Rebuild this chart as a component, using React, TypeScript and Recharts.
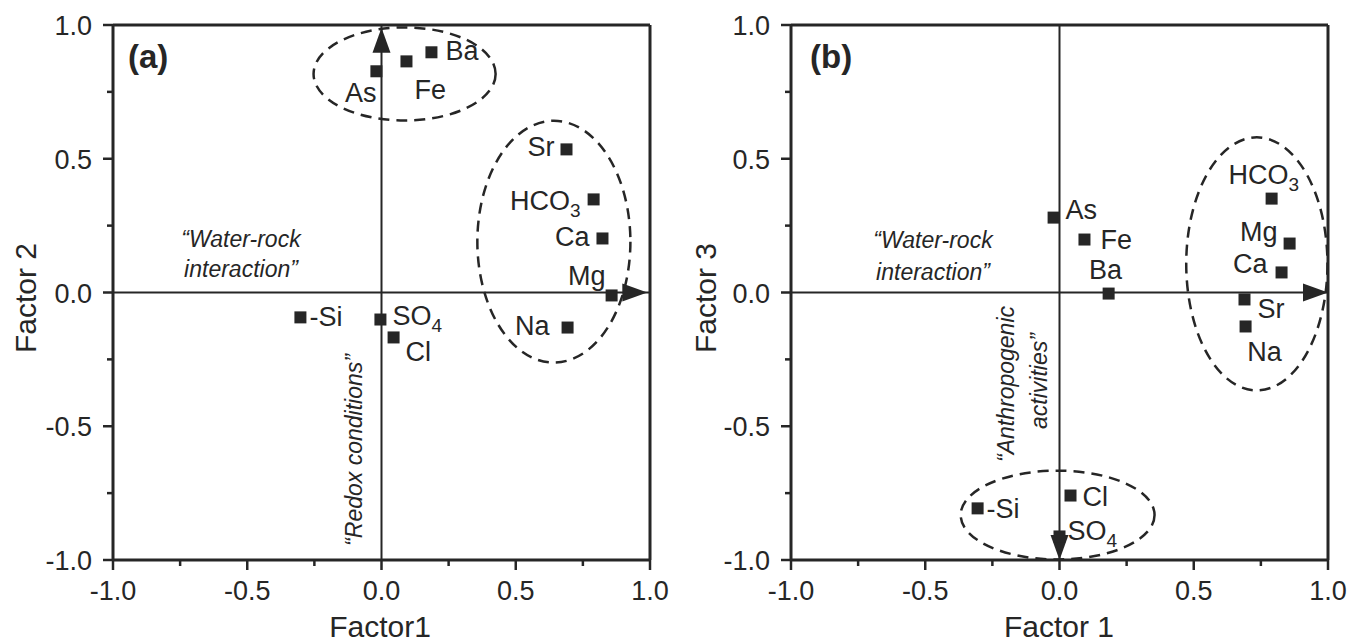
import { ScatterChart, Scatter, XAxis, YAxis, ReferenceLine, ReferenceArea } from 'recharts';

const INK = '#262626';
const FONT = '"Liberation Sans", Arial, Helvetica, sans-serif';

// panel (a): Factor 1 vs Factor 2
const ELEMENTS_A = ['As', 'Fe', 'Ba', 'Sr', 'HCO3', 'Ca', 'Mg', 'Na', '-Si', 'SO4', 'Cl'];
const FACTOR1_A = [-0.019, 0.093, 0.186, 0.689, 0.79, 0.823, 0.857, 0.693, -0.302, -0.004, 0.045];
const FACTOR2_A = [0.827, 0.864, 0.898, 0.535, 0.348, 0.202, -0.011, -0.131, -0.093, -0.101, -0.168];

// panel (b): Factor 1 vs Factor 3
const ELEMENTS_B = ['As', 'Fe', 'Ba', 'HCO3', 'Mg', 'Ca', 'Sr', 'Na', '-Si', 'Cl', 'SO4'];
const FACTOR1_B = [-0.022, 0.093, 0.183, 0.79, 0.857, 0.827, 0.689, 0.693, -0.305, 0.041, 0.0];
const FACTOR3_B = [0.28, 0.198, -0.004, 0.351, 0.183, 0.075, -0.026, -0.127, -0.807, -0.759, -0.912];

// grouping ellipses: centre and half-axes in factor units
const GROUPS_A = [
  { cx: 0.086, cy: 0.817, rx: 0.339, ry: 0.174 },
  { cx: 0.642, cy: 0.19, rx: 0.285, ry: 0.452 },
];
const GROUPS_B = [
  { cx: 0.735, cy: 0.107, rx: 0.263, ry: 0.473 },
  { cx: -0.007, cy: -0.832, rx: 0.361, ry: 0.166 },
];

const ARROWS_A = [
  { x: 0.99, y: 0, dir: 'right' },
  { x: 0, y: 0.99, dir: 'up' },
];
const ARROWS_B = [
  { x: 1, y: 0, dir: 'right' },
  { x: 0, y: -1, dir: 'down' },
];

const TICKS = [-1, -0.75, -0.5, -0.25, 0, 0.25, 0.5, 0.75, 1];

// label placement relative to the marker (anchor, dx, baseline dy)
const LABELS_A: Record<string, [string, number, number]> = {
  As: ['end', 0, 31],
  Fe: ['start', 8, 38],
  Ba: ['start', 14, 8],
  Sr: ['end', -12, 7],
  HCO3: ['end', -13, 11],
  Ca: ['end', -13, 8],
  Mg: ['end', -6, -10],
  Na: ['end', -18, 7],
  '-Si': ['start', 9, 9],
  SO4: ['start', 12, 5],
  Cl: ['start', 12, 24],
};
const LABELS_B: Record<string, [string, number, number]> = {
  As: ['start', 12, 1],
  Fe: ['start', 16, 9],
  Ba: ['middle', -3, -15],
  HCO3: ['start', -43, -15],
  Mg: ['end', -12, -3],
  Ca: ['end', -14, 1],
  Sr: ['start', 13, 19],
  Na: ['middle', 19, 35],
  '-Si': ['start', 9, 10],
  Cl: ['start', 12, 10],
  SO4: ['start', 8, 4],
};

const toPoints = (names: string[], xs: number[], ys: number[]) =>
  names.map((name, i) => ({ name, x: xs[i], y: ys[i] }));

const isMajor = (v: number) => Math.abs(v * 2 - Math.round(v * 2)) < 1e-6;

const XTick = (props: any) => {
  const { x, y, payload } = props;
  const v = payload.value;
  const major = isMajor(v);
  return (
    <g>
      <line x1={x} y1={y} x2={x} y2={y + (major ? 10 : 6)} stroke={INK} strokeWidth={2.5} />
      {major && (
        <text x={x} y={y + 40} textAnchor="middle" fontSize={27} fontFamily={FONT} fill={INK}>
          {v.toFixed(1)}
        </text>
      )}
    </g>
  );
};

const YTick = (props: any) => {
  const { x, y, payload } = props;
  const v = payload.value;
  const major = isMajor(v);
  return (
    <g>
      <line x1={x - (major ? 10 : 6)} y1={y} x2={x} y2={y} stroke={INK} strokeWidth={2.5} />
      {major && (
        <text x={x - 21} y={y + 10} textAnchor="end" fontSize={27} fontFamily={FONT} fill={INK}>
          {v.toFixed(1)}
        </text>
      )}
    </g>
  );
};

const renderName = (name: string) => {
  const m = name.match(/^(.*?)(\d)$/);
  if (!m) return name;
  return [
    <tspan key="b">{m[1]}</tspan>,
    <tspan key="s" fontSize={19} dy={7}>
      {m[2]}
    </tspan>,
  ];
};

const makePointShape = (labels: Record<string, [string, number, number]>) => (props: any) => {
  const { cx, cy, payload } = props;
  const [anchor, dx, dy] = labels[payload.name] || ['start', 10, 8];
  return (
    <g>
      <rect x={cx - 6} y={cy - 6} width={12} height={12} fill={INK} />
      <text
        x={cx + dx}
        y={cy + dy}
        textAnchor={anchor as any}
        fontSize={27}
        fontFamily={FONT}
        fill={INK}
      >
        {renderName(payload.name)}
      </text>
    </g>
  );
};

const ArrowHead = (props: any) => {
  const { cx, cy, payload } = props;
  const L = 25;
  const W = 9;
  let pts = '';
  if (payload.dir === 'right') pts = `${cx},${cy} ${cx - L},${cy - W} ${cx - L},${cy + W}`;
  if (payload.dir === 'up') pts = `${cx},${cy} ${cx - W},${cy + L} ${cx + W},${cy + L}`;
  if (payload.dir === 'down') pts = `${cx},${cy} ${cx - W},${cy - L} ${cx + W},${cy - L}`;
  return <polygon points={pts} fill={INK} />;
};

const EllipseShape = (p: any) => (
  <ellipse
    cx={p.x + p.width / 2}
    cy={p.y + p.height / 2}
    rx={Math.abs(p.width) / 2}
    ry={Math.abs(p.height) / 2}
    fill="none"
    stroke={INK}
    strokeWidth={2.5}
    strokeDasharray="11 7"
  />
);

interface PanelProps {
  width: number;
  left: number;
  right: number;
  points: { name: string; x: number; y: number }[];
  groups: { cx: number; cy: number; rx: number; ry: number }[];
  arrows: { x: number; y: number; dir: string }[];
  labels: Record<string, [string, number, number]>;
}

const Panel = ({ width, left, right, points, groups, arrows, labels }: PanelProps) => (
  <ScatterChart
    width={width}
    height={644}
    margin={{ top: 25, right, bottom: 34, left: left - 60 }}
    style={{ fontFamily: FONT }}
  >
    <XAxis
      type="number"
      dataKey="x"
      domain={[-1, 1]}
      ticks={TICKS}
      interval={0}
      height={50}
      tickSize={0}
      tickMargin={0}
      tickLine={false}
      tick={<XTick />}
      axisLine={{ stroke: INK, strokeWidth: 3 }}
    />
    <YAxis
      type="number"
      dataKey="y"
      domain={[-1, 1]}
      ticks={TICKS}
      interval={0}
      width={60}
      tickSize={0}
      tickMargin={0}
      tickLine={false}
      tick={<YTick />}
      axisLine={{ stroke: INK, strokeWidth: 3 }}
    />
    <ReferenceLine y={1} stroke={INK} strokeWidth={3} />
    <ReferenceLine x={1} stroke={INK} strokeWidth={3} />
    <ReferenceLine y={0} stroke={INK} strokeWidth={2} />
    <ReferenceLine x={0} stroke={INK} strokeWidth={2} />
    {groups.map((g, i) => (
      <ReferenceArea
        key={i}
        x1={g.cx - g.rx}
        x2={g.cx + g.rx}
        y1={g.cy - g.ry}
        y2={g.cy + g.ry}
        ifOverflow="visible"
        shape={EllipseShape}
      />
    ))}
    <Scatter data={arrows} shape={ArrowHead} isAnimationActive={false} />
    <Scatter data={points} shape={makePointShape(labels)} isAnimationActive={false} />
  </ScatterChart>
);

export default function App() {
  const pointsA = toPoints(ELEMENTS_A, FACTOR1_A, FACTOR2_A);
  const pointsB = toPoints(ELEMENTS_B, FACTOR1_B, FACTOR3_B);
  const italic = { fontFamily: FONT, fontStyle: 'italic', fontSize: 23, fill: INK } as const;
  const title = { fontFamily: FONT, fontSize: 30, fill: INK } as const;

  return (
    <div style={{ position: 'absolute', left: 0, top: 0, width: 1362, height: 644, background: '#fff' }}>
      <div style={{ position: 'absolute', left: 0, top: 0 }}>
        <Panel width={681} left={113} right={31} points={pointsA} groups={GROUPS_A} arrows={ARROWS_A} labels={LABELS_A} />
      </div>
      <div style={{ position: 'absolute', left: 680, top: 0 }}>
        <Panel width={682} left={111} right={34} points={pointsB} groups={GROUPS_B} arrows={ARROWS_B} labels={LABELS_B} />
      </div>
      <svg
        width={1362}
        height={644}
        style={{ position: 'absolute', left: 0, top: 0, pointerEvents: 'none' }}
      >
        <text x={128} y={68} fontFamily={FONT} fontWeight="bold" fontSize={33} fill={INK}>(a)</text>
        <text x={810} y={68} fontFamily={FONT} fontWeight="bold" fontSize={33} fill={INK}>(b)</text>

        <text x={241} y={247} textAnchor="middle" {...italic}>“Water-rock</text>
        <text x={241} y={277} textAnchor="middle" {...italic}>interaction”</text>
        <text x={933} y={248} textAnchor="middle" {...italic}>“Water-rock</text>
        <text x={933} y={280} textAnchor="middle" {...italic}>interaction”</text>

        <text transform="translate(362,450) rotate(-90)" textAnchor="middle" {...italic}>“Redox conditions”</text>
        <text transform="translate(1014,384) rotate(-90)" textAnchor="middle" {...italic}>“Anthropogenic</text>
        <text transform="translate(1047,381) rotate(-90)" textAnchor="middle" {...italic}>activities”</text>

        <text transform="translate(36,298) rotate(-90)" textAnchor="middle" {...title}>Factor 2</text>
        <text transform="translate(716,298) rotate(-90)" textAnchor="middle" {...title}>Factor 3</text>
        <text x={380} y={637} textAnchor="middle" {...title}>Factor1</text>
        <text x={1059} y={637} textAnchor="middle" {...title}>Factor 1</text>
      </svg>
    </div>
  );
}
